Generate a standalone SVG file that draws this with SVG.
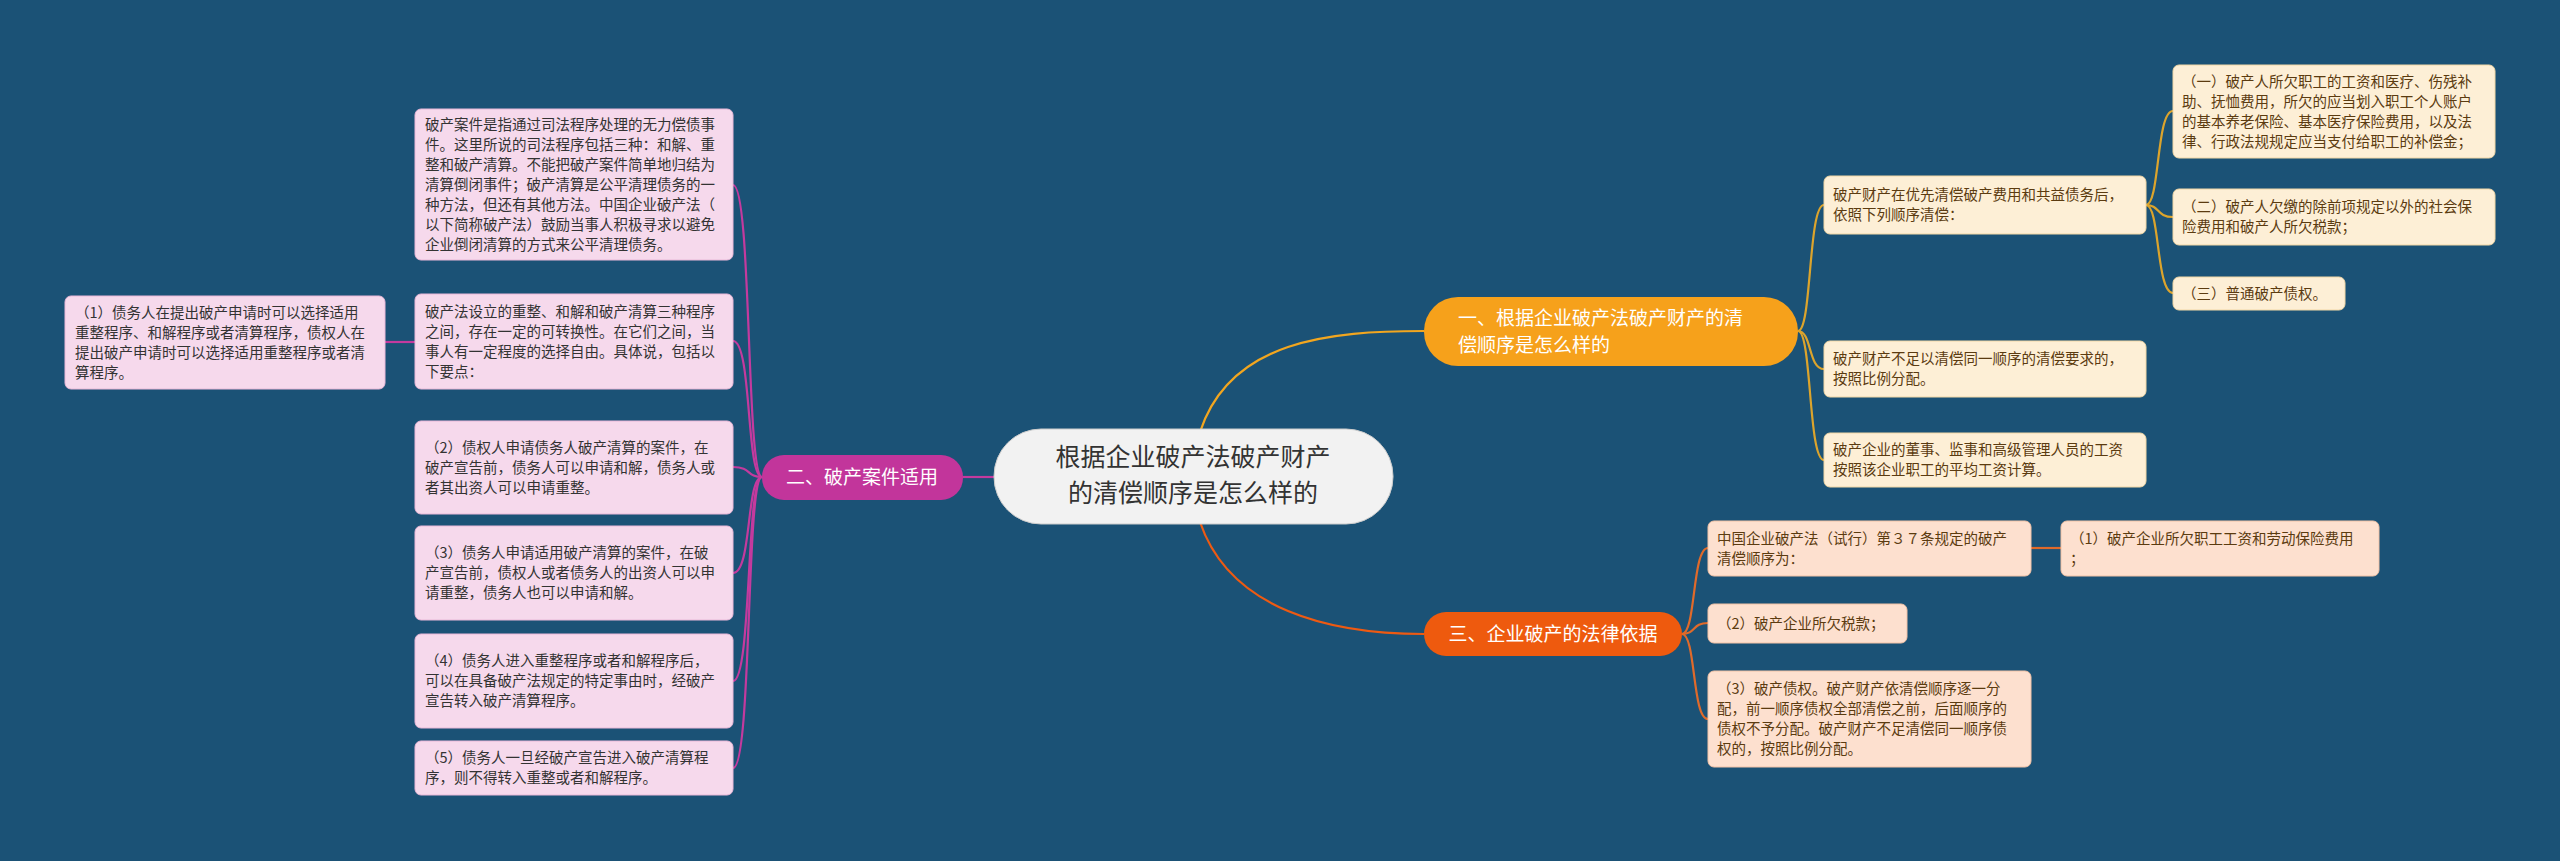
<svg xmlns="http://www.w3.org/2000/svg" width="2560" height="861" viewBox="0 0 2560 861">
<style>
text{font-family:"Noto Sans CJK SC","Noto Sans",sans-serif}
.pk rect{fill:#f6d9ec;stroke:#e9b8d8;stroke-width:1}
.pk text{font-size:14.5px;fill:#333}
.cr rect{fill:#fdefd6;stroke:#f1d7a6;stroke-width:1}
.cr text{font-size:14.5px;fill:#5b3b10}
.pc rect{fill:#fde0cf;stroke:#f2c2a6;stroke-width:1}
.pc text{font-size:14.5px;fill:#5b3b10}
.br text{fill:#fff;font-size:19px}
.c path{fill:none;stroke-width:2.2}
</style>
<rect width="2560" height="861" fill="#1b5276"/>
<g id="connectors" class="c">
<path d="M1200,432 C1230,340 1330,331 1424,331" stroke="#f2a61f"/>
<path d="M1200,522 C1230,610 1330,634 1424,634" stroke="#ee5a12"/>
<path d="M994,477 L963,477" stroke="#c43a9e"/>
<g stroke="#dca42c">
<path d="M1798,331 C1812,331 1808,205 1824,205"/>
<path d="M1798,331 C1812,331 1808,369 1824,369"/>
<path d="M1798,331 C1812,331 1808,460 1824,460"/>
<path d="M2146,205 C2160,205 2156,111 2173,111"/>
<path d="M2146,205 C2160,205 2156,217 2173,217"/>
<path d="M2146,205 C2160,205 2156,293 2173,293"/>
</g>
<g stroke="#e06a2a">
<path d="M1682,634 C1696,634 1692,548 1708,548"/>
<path d="M1682,634 C1696,634 1692,623 1708,623"/>
<path d="M1682,634 C1696,634 1692,719 1708,719"/>
<path d="M2031,548 L2061,548"/>
</g>
<g stroke="#c43a9e">
<path d="M762,477 C746,477 752,185 733,185"/>
<path d="M762,477 C746,477 752,341 733,341"/>
<path d="M762,477 C746,477 752,467 733,467"/>
<path d="M762,477 C746,477 752,573 733,573"/>
<path d="M762,477 C746,477 752,681 733,681"/>
<path d="M762,477 C746,477 752,768 733,768"/>
<path d="M415,342 L385,342"/>
</g>
</g>
<g id="center"><rect x="994" y="429" width="399" height="95" rx="47" fill="#f2f2f2" stroke="#ccc"/>
<text x="1193" y="466" font-size="25" fill="#333" text-anchor="middle">根据企业破产法破产财产</text>
<text x="1193" y="502" font-size="25" fill="#333" text-anchor="middle">的清偿顺序是怎么样的</text></g>
<g id="b1" class="br"><rect x="1424" y="297" width="374" height="69" rx="34" fill="#f6a11b"/>
<text x="1458" y="325">一、根据企业破产法破产财产的清</text><text x="1458" y="352">偿顺序是怎么样的</text></g>
<g id="b3" class="br"><rect x="1424" y="612" width="258" height="44" rx="22" fill="#ee5a0e"/>
<text x="1553" y="641" text-anchor="middle">三、企业破产的法律依据</text></g>
<g id="b2" class="br"><rect x="762" y="455" width="201" height="45" rx="22" fill="#c2359b"/>
<text x="862" y="484" text-anchor="middle">二、破产案件适用</text></g>

<g id="L1" class="pk"><rect x="415" y="109" width="318" height="151" rx="6"/>
<text x="425" y="129.5"><tspan x="425">破产案件是指通过司法程序处理的无力偿债事</tspan><tspan x="425" dy="20">件。这里所说的司法程序包括三种：和解、重</tspan><tspan x="425" dy="20">整和破产清算。不能把破产案件简单地归结为</tspan><tspan x="425" dy="20">清算倒闭事件；破产清算是公平清理债务的一</tspan><tspan x="425" dy="20">种方法，但还有其他方法。中国企业破产法（</tspan><tspan x="425" dy="20">以下简称破产法）鼓励当事人积极寻求以避免</tspan><tspan x="425" dy="20">企业倒闭清算的方式来公平清理债务。</tspan></text></g>
<g id="L2" class="pk"><rect x="415" y="294" width="318" height="95" rx="6"/>
<text x="425" y="316.5"><tspan x="425">破产法设立的重整、和解和破产清算三种程序</tspan><tspan x="425" dy="20">之间，存在一定的可转换性。在它们之间，当</tspan><tspan x="425" dy="20">事人有一定程度的选择自由。具体说，包括以</tspan><tspan x="425" dy="20">下要点：</tspan></text></g>
<g id="L2a" class="pk"><rect x="65" y="296" width="320" height="93" rx="6"/>
<text x="75" y="317.5"><tspan x="75">（1）债务人在提出破产申请时可以选择适用</tspan><tspan x="75" dy="20">重整程序、和解程序或者清算程序，债权人在</tspan><tspan x="75" dy="20">提出破产申请时可以选择适用重整程序或者清</tspan><tspan x="75" dy="20">算程序。</tspan></text></g>
<g id="L3" class="pk"><rect x="415" y="421" width="318" height="93" rx="6"/>
<text x="425" y="452.5"><tspan x="425">（2）债权人申请债务人破产清算的案件，在</tspan><tspan x="425" dy="20">破产宣告前，债务人可以申请和解，债务人或</tspan><tspan x="425" dy="20">者其出资人可以申请重整。</tspan></text></g>
<g id="L4" class="pk"><rect x="415" y="526" width="318" height="94" rx="6"/>
<text x="425" y="558"><tspan x="425">（3）债务人申请适用破产清算的案件，在破</tspan><tspan x="425" dy="20">产宣告前，债权人或者债务人的出资人可以申</tspan><tspan x="425" dy="20">请重整，债务人也可以申请和解。</tspan></text></g>
<g id="L5" class="pk"><rect x="415" y="634" width="318" height="94" rx="6"/>
<text x="425" y="666"><tspan x="425">（4）债务人进入重整程序或者和解程序后，</tspan><tspan x="425" dy="20">可以在具备破产法规定的特定事由时，经破产</tspan><tspan x="425" dy="20">宣告转入破产清算程序。</tspan></text></g>
<g id="L6" class="pk"><rect x="415" y="741" width="318" height="54" rx="6"/>
<text x="425" y="763"><tspan x="425">（5）债务人一旦经破产宣告进入破产清算程</tspan><tspan x="425" dy="20">序，则不得转入重整或者和解程序。</tspan></text></g>

<g id="A" class="cr"><rect x="1824" y="176" width="322" height="58" rx="6"/>
<text x="1833" y="200"><tspan x="1833">破产财产在优先清偿破产费用和共益债务后，</tspan><tspan x="1833" dy="20">依照下列顺序清偿：</tspan></text></g>
<g id="A1" class="cr"><rect x="2173" y="65" width="322" height="93" rx="6"/>
<text x="2182" y="86.5"><tspan x="2182">（一）破产人所欠职工的工资和医疗、伤残补</tspan><tspan x="2182" dy="20">助、抚恤费用，所欠的应当划入职工个人账户</tspan><tspan x="2182" dy="20">的基本养老保险、基本医疗保险费用，以及法</tspan><tspan x="2182" dy="20">律、行政法规规定应当支付给职工的补偿金；</tspan></text></g>
<g id="A2" class="cr"><rect x="2173" y="189" width="322" height="56" rx="6"/>
<text x="2182" y="212"><tspan x="2182">（二）破产人欠缴的除前项规定以外的社会保</tspan><tspan x="2182" dy="20">险费用和破产人所欠税款；</tspan></text></g>
<g id="A3" class="cr"><rect x="2173" y="277" width="172" height="33" rx="6"/>
<text x="2182" y="298.5">（三）普通破产债权。</text></g>
<g id="B" class="cr"><rect x="1824" y="341" width="322" height="56" rx="6"/>
<text x="1833" y="364"><tspan x="1833">破产财产不足以清偿同一顺序的清偿要求的，</tspan><tspan x="1833" dy="20">按照比例分配。</tspan></text></g>
<g id="C" class="cr"><rect x="1824" y="433" width="322" height="54" rx="6"/>
<text x="1833" y="455"><tspan x="1833">破产企业的董事、监事和高级管理人员的工资</tspan><tspan x="1833" dy="20">按照该企业职工的平均工资计算。</tspan></text></g>

<g id="D" class="pc"><rect x="1708" y="521" width="323" height="55" rx="6"/>
<text x="1717" y="544"><tspan x="1717">中国企业破产法（试行）第３７条规定的破产</tspan><tspan x="1717" dy="20">清偿顺序为：</tspan></text></g>
<g id="D1" class="pc"><rect x="2061" y="521" width="318" height="55" rx="6"/>
<text x="2070" y="544"><tspan x="2070">（1）破产企业所欠职工工资和劳动保险费用</tspan><tspan x="2070" dy="20">；</tspan></text></g>
<g id="E" class="pc"><rect x="1708" y="604" width="199" height="39" rx="6"/>
<text x="1717" y="629">（2）破产企业所欠税款；</text></g>
<g id="F" class="pc"><rect x="1708" y="671" width="323" height="96" rx="6"/>
<text x="1717" y="694"><tspan x="1717">（3）破产债权。破产财产依清偿顺序逐一分</tspan><tspan x="1717" dy="20">配，前一顺序债权全部清偿之前，后面顺序的</tspan><tspan x="1717" dy="20">债权不予分配。破产财产不足清偿同一顺序债</tspan><tspan x="1717" dy="20">权的，按照比例分配。</tspan></text></g>
</svg>
